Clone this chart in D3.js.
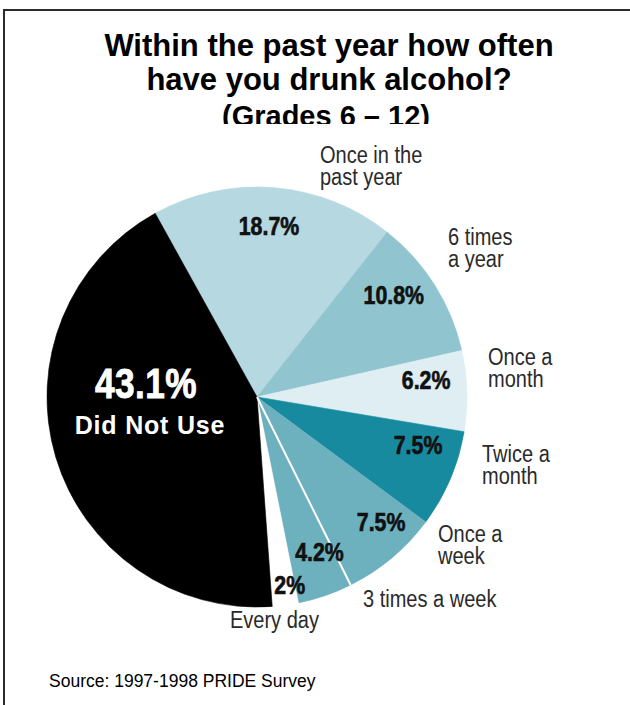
<!DOCTYPE html>
<html>
<head>
<meta charset="utf-8">
<script src="https://cdn.jsdelivr.net/npm/d3@7/dist/d3.min.js"></script>
<style>
  html, body { margin: 0; padding: 0; background: #fff; }
  svg { display: block; }
</style>
</head>
<body>
<svg id="chart" width="630" height="705"></svg>
<script>
// Survey answers, in clockwise order around the pie
const categories = [
  "Once in the past year", "6 times a year", "Once a month", "Twice a month",
  "Once a week", "3 times a week", "Every day", "Did Not Use"
];
const values = [18.7, 10.8, 6.2, 7.5, 7.5, 4.2, 2, 43.1];
// Category captions drawn outside the pie, split into lines
const captionLines = [
  ["Once in the", "past year"], ["6 times", "a year"], ["Once a", "month"],
  ["Twice a", "month"], ["Once a", "week"], ["3 times a week"], ["Every day"], []
];
const titleLines = ["Within the past year how often", "have you drunk alcohol?"];
const subtitle = "(Grades 6 \u2013 12)";
const sourceText = "Source: 1997-1998 PRIDE Survey";

// Styling / layout
const colors = ["#b6d8e1", "#90c4cf", "#deeef2", "#178a9f", "#6db1bf", "#6db1bf", "#ffffff", "#000000"];
const cx = 257, cy = 397, R = 210;
const startDeg = -29;
// percent label placement: [fraction across the slice's angle, radius]
const pctPlace = [[0.49, 172], [0.38, 171], [0.31, 170], [0.26, 168], [0.32, 176], [0.30, 167], [0.2, 190], [0.655, 112]];
// caption placement relative to the pie centre: [x, first baseline]
const capPlace = [[63, -234], [191, -152], [231, -32], [225, 65], [181, 145], [106, 210], [-27, 231], [0, 0]];
const pctSqueeze = 0.82; // horizontal condensing of the percent type
const capSqueeze = 0.87; // horizontal condensing of the caption type

const sans = "'Liberation Sans', Arial, Helvetica, sans-serif";

const svg = d3.select("#chart");
svg.append("rect").attr("width", 630).attr("height", 705).attr("fill", "#fff");

// Frame (runs off the right and bottom edges)
svg.append("rect")
  .attr("x", 4).attr("y", 10).attr("width", 700).attr("height", 800)
  .attr("fill", "none").attr("stroke", "#2b2b2b").attr("stroke-width", 2);

// Title
const title = svg.append("g").attr("font-family", sans).attr("font-weight", "bold")
  .attr("fill", "#000").attr("text-anchor", "middle");
titleLines.forEach((t, i) => {
  title.append("text").attr("x", 329).attr("y", 56 + i * 34)
    .attr("font-size", 31).text(t);
});
title.append("text").attr("x", 326).attr("y", 126).attr("font-size", 29).text(subtitle);

// Graphic panel (its white background trims the subtitle's lower edge)
svg.append("rect").attr("x", 20).attr("y", 124).attr("width", 580).attr("height", 520).attr("fill", "#fff");

const g = svg.append("g").attr("transform", `translate(${cx},${cy})`);
const rad = d => d * Math.PI / 180;

const pie = d3.pie().sort(null).value(d => d)
  .startAngle(rad(startDeg)).endAngle(rad(startDeg) + 2 * Math.PI);
const arcs = pie(values);
const arc = d3.arc().innerRadius(0).outerRadius(R);

g.selectAll("path.slice").data(arcs).join("path")
  .attr("class", "slice")
  .attr("d", arc)
  .attr("fill", (d, i) => colors[i])
  .attr("stroke", (d, i) => colors[i])
  .attr("stroke-width", 0.6);

// White divider where two neighbouring slices share a colour
arcs.forEach((d, i) => {
  if (i > 0 && colors[i] === colors[i - 1]) {
    const a = d.startAngle;
    g.append("line")
      .attr("x1", 0).attr("y1", 0)
      .attr("x2", R * Math.sin(a)).attr("y2", -R * Math.cos(a))
      .attr("stroke", "#fff").attr("stroke-width", 2);
  }
});

// Percent labels
const pct = v => `${v}%`;
arcs.forEach((d, i) => {
  const [f, r] = pctPlace[i];
  const a = d.startAngle + f * (d.endAngle - d.startAngle);
  const x = r * Math.sin(a), y = -r * Math.cos(a);
  const big = i === arcs.length - 1;
  g.append("g")
    .attr("transform", `translate(${x},${y}) scale(${pctSqueeze},1)`)
    .append("text")
    .attr("dy", "0.36em")
    .attr("text-anchor", "middle")
    .attr("font-family", sans).attr("font-weight", "bold")
    .attr("font-size", big ? 43 : 26)
    .attr("letter-spacing", big ? 0.5 : 0)
    .attr("fill", big ? "#fff" : "#111")
    .attr("stroke", big ? "#fff" : "#111").attr("stroke-width", big ? 0.9 : 0.7)
    .text(pct(d.data));
  if (big) {
    g.append("text")
      .attr("x", x + 4).attr("y", y + 52)
      .attr("text-anchor", "middle")
      .attr("font-family", sans).attr("font-weight", "bold")
      .attr("font-size", 25).attr("letter-spacing", 0.8)
      .attr("fill", "#fff")
      .text(categories[i]);
  }
});

// Category captions
arcs.forEach((d, i) => {
  const lines = captionLines[i];
  if (!lines.length) return;
  const [x, y] = capPlace[i];
  const t = g.append("g")
    .attr("transform", `translate(${x},${y}) scale(${capSqueeze},1)`)
    .append("text")
    .attr("font-family", sans).attr("font-size", 23)
    .attr("fill", "#2a2a2a");
  lines.forEach((line, j) => {
    t.append("tspan").attr("x", 0).attr("y", j * 22).text(line);
  });
});

// Source note
svg.append("text")
  .attr("x", 49).attr("y", 687)
  .attr("font-family", sans).attr("font-size", 17.5).attr("fill", "#000")
  .text(sourceText);
</script>
</body>
</html>
